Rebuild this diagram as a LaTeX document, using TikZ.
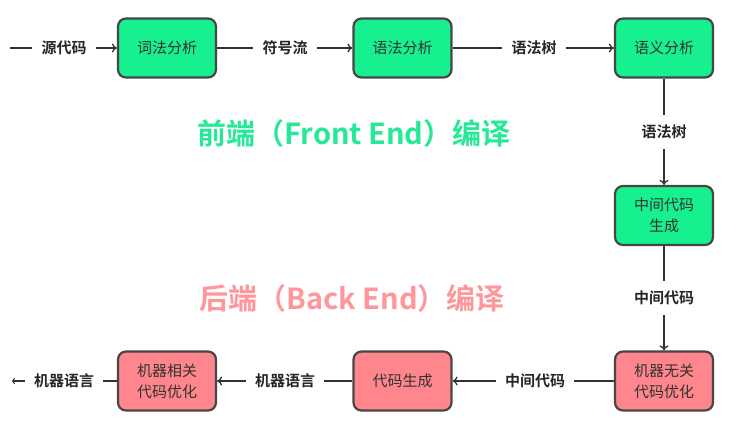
\documentclass[tikz,border=0pt]{standalone}
\usepackage{fontspec}
\newfontfamily\cjk{Noto Sans CJK SC}[BoldFont={Noto Sans CJK SC Bold}]
\usetikzlibrary{arrows.meta}
\definecolor{boxgreen}{RGB}{22,240,142}
\definecolor{boxpink}{RGB}{255,134,140}
\definecolor{titlegreen}{RGB}{38,232,150}
\definecolor{titlepink}{RGB}{255,150,156}
\definecolor{edgegray}{RGB}{70,70,70}
\definecolor{inkgray}{RGB}{50,50,50}
\begin{document}
\begin{tikzpicture}[x=1pt,y=-1pt,
  stage/.style={draw=edgegray, line width=2.2pt, rounded corners=8pt,
    minimum width=98pt, minimum height=59pt, align=center,
    font=\cjk\fontsize{15}{21}\selectfont, text=inkgray},
  front/.style={stage, fill=boxgreen},
  back/.style={stage, fill=boxpink},
  flowlabel/.style={font=\cjk\bfseries\fontsize{15}{18}\selectfont, text=black!85,
    inner xsep=9pt, inner ysep=10pt},
  flow/.style={draw=inkgray, line width=1.3pt},
  flowarrow/.style={flow, -{To[length=5pt,width=9pt,line width=1.3pt]}},
  title/.style={font=\cjk\bfseries\fontsize{29}{34}\selectfont}
]
\useasboundingbox (0,0) rectangle (738,428);

% front end stages
\node[front] (lex) at (167,48) {词法分析};
\node[front] (syn) at (402.5,48) {语法分析};
\node[front] (sem) at (664,48) {语义分析};
\node[front] (ir)  at (664,215.5) {中间代码\\生成};

% back end stages
\node[back] (indep) at (664,381) {机器无关\\代码优化};
\node[back] (gen)   at (402.5,381) {代码生成};
\node[back] (dep)   at (167,381) {机器相关\\代码优化};

% data passed between stages
\coordinate (src) at (10,48);
\node[flowlabel] (lsrc)  at (64,48)  {源代码};
\node[flowlabel] (ltok)  at (285,48) {符号流};
\node[flowlabel] (ltree) at (534,48) {语法树};
\node[flowlabel] (ltree2) at (664,132) {语法树};
\node[flowlabel] (lir)   at (664,298) {中间代码};
\node[flowlabel] (lir2)  at (535,381) {中间代码};
\node[flowlabel] (lmc)   at (285,381) {机器语言};
\node[flowlabel] (lout)  at (64,381) {机器语言};
\coordinate (out) at (12,381);

\draw[flow] (src) -- (lsrc);
\draw[flowarrow] (lsrc) -- (lex);
\draw[flow] (lex) -- (ltok);
\draw[flowarrow] (ltok) -- (syn);
\draw[flow] (syn) -- (ltree);
\draw[flowarrow] (ltree) -- (sem);
\draw[flow] (sem) -- (ltree2);
\draw[flowarrow] (ltree2) -- (ir);
\draw[flow] (ir) -- (lir);
\draw[flowarrow] (lir) -- (indep);
\draw[flow] (indep) -- (lir2);
\draw[flowarrow] (lir2) -- (gen);
\draw[flow] (gen) -- (lmc);
\draw[flowarrow] (lmc) -- (dep);
\draw[flow] (dep) -- (lout);
\draw[flow, -{To[length=3pt,width=6pt,line width=1pt]}] (lout) -- (out);

% phase titles
\node[title, text=titlegreen] (ftitle) at (354,133) {前端（Front End）编译};
\node[title, text=titlepink]  (btitle) at (352,298) {后端（Back End）编译};
\end{tikzpicture}
\end{document}
